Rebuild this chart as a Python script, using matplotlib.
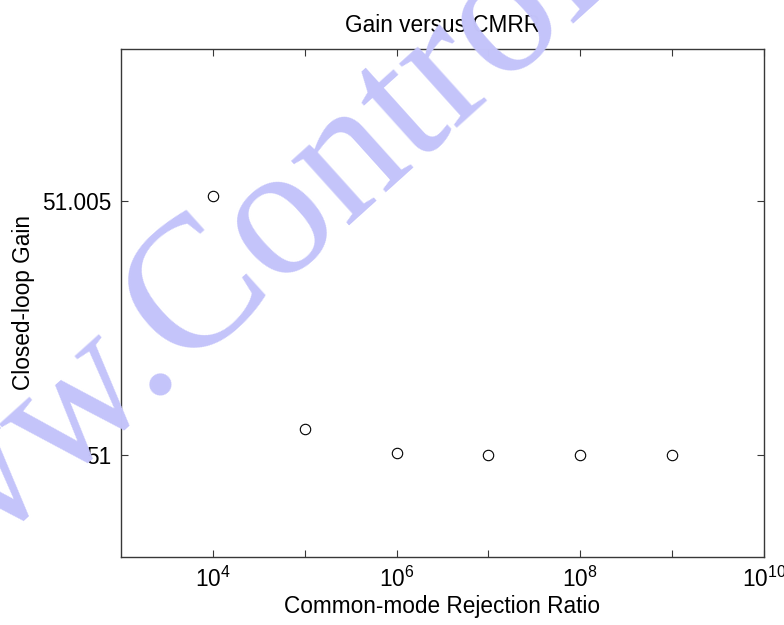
import matplotlib
matplotlib.use('Agg')
import matplotlib.pyplot as plt

# Datos
cmrr = [1e4, 1e5, 1e6, 1e7, 1e8, 1e9]
gain = [51.0051, 51.00051, 51.00005, 51.000005, 51.0000005, 51.00000005]

xticks = [1e4, 1e5, 1e6, 1e7, 1e8, 1e9, 1e10]
xtick_labels = [r'$10^{4}$', '', r'$10^{6}$', '', r'$10^{8}$', '', r'$10^{10}$']
yticks = [51.0, 51.005]
ytick_labels = ['51', '51.005']

plt.rcParams['font.family'] = ['Liberation Sans', 'DejaVu Sans']
plt.rcParams['mathtext.fontset'] = 'custom'
plt.rcParams['mathtext.rm'] = 'Liberation Sans'
plt.rcParams['mathtext.it'] = 'Liberation Sans'

fig = plt.figure(figsize=(7.84, 6.25), dpi=100)
ax = fig.add_axes([0.1543, 0.1088, 0.8202, 0.8128])

ax.semilogx(cmrr, gain, 'o', markerfacecolor='none', markeredgecolor='black',
            markersize=7.5, markeredgewidth=0.8)

ax.set_xlim(1e3, 1e10)
ax.set_ylim(50.998, 51.008)
ax.set_xticks(xticks)
ax.set_xticklabels(xtick_labels)
ax.minorticks_off()
ax.set_yticks(yticks)
ax.set_yticklabels(ytick_labels)

for s in ax.spines.values():
    s.set_color('#383838')
    s.set_linewidth(1.0)
ax.tick_params(direction='in', length=5, width=0.8, color='#383838',
               top=True, right=True, labelsize=16.3, pad=7)

ax.set_title('Gain versus CMRR', fontsize=16.3, pad=12)
ax.set_xlabel('Common-mode Rejection Ratio', fontsize=16.3, labelpad=2)
ax.set_ylabel('Closed-loop Gain', fontsize=16.3, labelpad=5)

# Marca de agua
fig.text(-0.1824, -0.0704, 'www.Control', fontsize=135, family='Liberation Serif',
         color='#c4c4fa', rotation=42, rotation_mode='anchor',
         ha='left', va='baseline', zorder=10)

fig.savefig('out.png', dpi=100)
